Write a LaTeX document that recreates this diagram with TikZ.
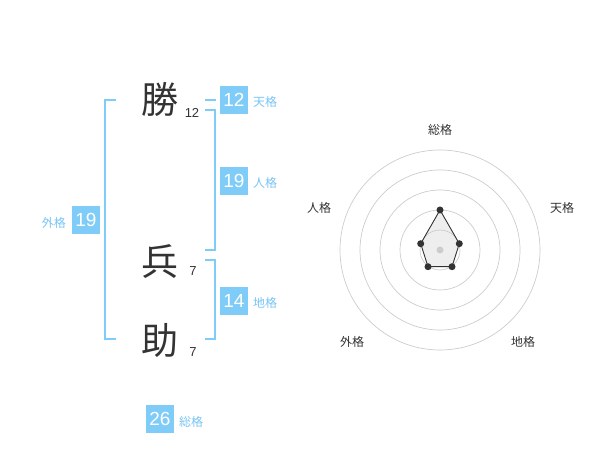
\documentclass[tikz,border=0pt]{standalone}
\usepackage{fontspec}
\usetikzlibrary{calc}
\setmainfont{Liberation Sans}
\newfontfamily\jp{Noto Sans CJK JP}
\definecolor{boxblue}{RGB}{128,204,248}
\definecolor{lblblue}{RGB}{120,196,244}
\definecolor{ink}{RGB}{51,51,51}
\definecolor{ringgray}{RGB}{204,204,204}
\definecolor{fillgray}{RGB}{238,238,238}
\begin{document}
\begin{tikzpicture}[x=1pt,y=-1pt,
  kanji/.style={font=\jp\fontsize{37}{37}\selectfont, text=ink, inner sep=0pt},
  stroke/.style={font=\fontsize{13}{13}\selectfont, text=ink, inner sep=0pt},
  numbox/.style={fill=boxblue, text=white, minimum width=28pt, minimum height=28pt, inner sep=0pt, font=\fontsize{19}{19}\selectfont},
  lbl/.style={font=\jp\fontsize{12}{12}\selectfont, text=lblblue, inner sep=0pt},
  brk/.style={draw=boxblue, line width=2pt},
  ring/.style={draw=ringgray, line width=0.7pt},
  axlbl/.style={font=\jp\fontsize{12}{12}\selectfont, text=ink, inner sep=0pt},
  dot/.style={circle, fill=ink, inner sep=0pt, minimum size=7pt}]
\useasboundingbox (0,0) rectangle (600,470);
% name characters
\node[kanji] (k1) at (160,99) {勝};
\node[stroke] (s1) at (192,113) {12};
\node[kanji] (k2) at (160,262) {兵};
\node[stroke] (s2) at (193,271) {7};
\node[kanji] (k3) at (160,340) {助};
\node[stroke] (s3) at (193,352) {7};
% brackets
\coordinate (gA) at (116,100); \coordinate (gB) at (116,339);
\draw[brk] (gA) -- (105,100) -- (105,339) -- (gB);
\coordinate (tA) at (205,100); \coordinate (tB) at (216,100);
\draw[brk] (tA) -- (tB);
\coordinate (jA) at (205,110); \coordinate (jB) at (205,250);
\draw[brk] (jA) -- (215,110) -- (215,250) -- (jB);
\coordinate (cA) at (205,260); \coordinate (cB) at (205,339);
\draw[brk] (cA) -- (215,260) -- (215,339) -- (cB);
% boxes and labels
\node[numbox] (b1) at (234,100) {12};
\node[lbl, anchor=west] (l1) at (253,102) {天格};
\node[numbox] (b2) at (234,181) {19};
\node[lbl, anchor=west] (l2) at (253,183) {人格};
\node[numbox] (b3) at (234,301) {14};
\node[lbl, anchor=west] (l3) at (253,303) {地格};
\node[numbox] (b4) at (86,220) {19};
\node[lbl, anchor=east] (l4) at (66,223) {外格};
\node[numbox] (b5) at (160,419) {26};
\node[lbl, anchor=west] (l5) at (179,422) {総格};
% radar chart
\coordinate (C) at (440,250);
\coordinate (pT) at ($(C)+(0,-40)$);
\coordinate (pR) at ($(C)+(19.3,-6.3)$);
\coordinate (pRB) at ($(C)+(12,16.7)$);
\coordinate (pLB) at ($(C)+(-12,16.7)$);
\coordinate (pL) at ($(C)+(-19.3,-6.3)$);
\fill[fillgray] (pT) -- (pR) -- (pRB) -- (pLB) -- (pL) -- cycle;
\foreach \r in {20,40,60,80,100} \draw[ring] (C) circle (\r);
\node[circle, fill=ringgray, inner sep=0pt, minimum size=7pt] (cd) at (C) {};
\draw[ink, line width=0.9pt] (pT) -- (pR) -- (pRB) -- (pLB) -- (pL) -- cycle;
\foreach \p in {pT,pR,pRB,pLB,pL} \node[dot] at (\p) {};
\node[axlbl] (a1) at (440,130) {総格};
\node[axlbl] (a2) at (562,208) {天格};
\node[axlbl] (a3) at (319,208) {人格};
\node[axlbl] (a4) at (352,342) {外格};
\node[axlbl] (a5) at (523,342) {地格};
\end{tikzpicture}
\end{document}
